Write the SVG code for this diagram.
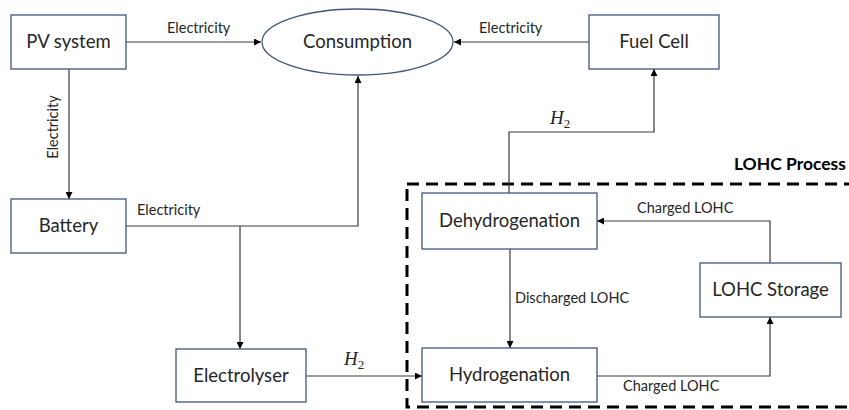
<svg xmlns="http://www.w3.org/2000/svg" width="849" height="410" viewBox="0 0 849 410">
  <style>
    .box { fill: #ffffff; stroke: #42557b; stroke-width: 1.3; }
    .lbl { font-family: Lato, "Open Sans", "Liberation Sans", sans-serif; font-size: 18.5px; fill: #262626; text-anchor: middle; }
    .edge { fill: none; stroke: #3a3a3a; stroke-width: 1.2; }
    .elbl { font-family: Lato, "Open Sans", "Liberation Sans", sans-serif; font-size: 14.5px; fill: #262626; }
    .math { font-family: "Liberation Serif", serif; font-size: 19px; fill: #262626; }
    .group { fill: none; stroke: #000000; stroke-width: 3; stroke-dasharray: 12 7; }
  </style>
  <defs>
    <marker id="arrow" viewBox="0 0 10 10" refX="10" refY="5" markerWidth="7" markerHeight="7" orient="auto" markerUnits="userSpaceOnUse">
      <path d="M0,0 L10,5 L0,10 z" fill="#000000"/>
    </marker>
  </defs>

  <rect width="849" height="410" fill="#ffffff"/>

  <!-- LOHC process boundary -->
  <g id="lohc-process">
    <rect class="group" x="407" y="184" width="460" height="223"/>
    <text x="846" y="170" font-family="Lato, 'Open Sans', 'Liberation Sans', sans-serif" font-size="17.5" font-weight="bold" fill="#000000" text-anchor="end">LOHC Process</text>
  </g>

  <!-- connectors -->
  <g id="connectors">
    <!-- PV -> Consumption -->
    <line class="edge" x1="126" y1="42" x2="261" y2="42" marker-end="url(#arrow)"/>
    <text class="elbl" x="167" y="33">Electricity</text>
    <!-- PV -> Battery -->
    <line class="edge" x1="69" y1="69" x2="69" y2="199" marker-end="url(#arrow)"/>
    <text class="elbl" transform="translate(58,127) rotate(-90)" text-anchor="middle">Electricity</text>
    <!-- Battery -> Consumption -->
    <polyline class="edge" points="126,226 358,226 358,76" marker-end="url(#arrow)"/>
    <text class="elbl" x="137" y="215">Electricity</text>
    <!-- Battery -> Electrolyser -->
    <line class="edge" x1="240" y1="226" x2="240" y2="349" marker-end="url(#arrow)"/>
    <!-- Electrolyser -> Hydrogenation -->
    <line class="edge" x1="306" y1="376" x2="422" y2="376" marker-end="url(#arrow)"/>
    <text class="math" x="344" y="365"><tspan font-style="italic">H</tspan><tspan font-size="13" dy="4">2</tspan></text>
    <!-- Fuel Cell -> Consumption -->
    <line class="edge" x1="589" y1="42" x2="454" y2="42" marker-end="url(#arrow)"/>
    <text class="elbl" x="479" y="33">Electricity</text>
    <!-- Dehydrogenation -> Fuel Cell -->
    <polyline class="edge" points="509,193 509,132 654,132 654,69" marker-end="url(#arrow)"/>
    <text class="math" x="550" y="124"><tspan font-style="italic">H</tspan><tspan font-size="13" dy="4">2</tspan></text>
    <!-- Dehydrogenation -> Hydrogenation -->
    <line class="edge" x1="510" y1="249" x2="510" y2="348" marker-end="url(#arrow)"/>
    <text class="elbl" x="515" y="303">Discharged LOHC</text>
    <!-- Hydrogenation -> LOHC Storage -->
    <polyline class="edge" points="597,376 770,376 770,317" marker-end="url(#arrow)"/>
    <text class="elbl" x="623" y="391">Charged LOHC</text>
    <!-- LOHC Storage -> Dehydrogenation -->
    <polyline class="edge" points="770,263 770,221 597,221" marker-end="url(#arrow)"/>
    <text class="elbl" x="637" y="213">Charged LOHC</text>
  </g>

  <!-- nodes -->
  <g id="pv-system">
    <rect class="box" x="11" y="15" width="115" height="54"/>
    <text class="lbl" x="68.5" y="48">PV system</text>
  </g>
  <g id="consumption">
    <ellipse class="box" cx="357.5" cy="42" rx="95.5" ry="33"/>
    <text class="lbl" x="357.5" y="48">Consumption</text>
  </g>
  <g id="fuel-cell">
    <rect class="box" x="589" y="15" width="130" height="54"/>
    <text class="lbl" x="654" y="48">Fuel Cell</text>
  </g>
  <g id="battery">
    <rect class="box" x="11" y="199" width="115" height="54"/>
    <text class="lbl" x="68.5" y="232">Battery</text>
  </g>
  <g id="electrolyser">
    <rect class="box" x="176" y="349" width="130" height="53"/>
    <text class="lbl" x="241" y="382">Electrolyser</text>
  </g>
  <g id="dehydrogenation">
    <rect class="box" x="422" y="193" width="175" height="56"/>
    <text class="lbl" x="509.5" y="227">Dehydrogenation</text>
  </g>
  <g id="hydrogenation">
    <rect class="box" x="422" y="348" width="175" height="54"/>
    <text class="lbl" x="509.5" y="381">Hydrogenation</text>
  </g>
  <g id="lohc-storage">
    <rect class="box" x="700" y="263" width="141" height="54"/>
    <text class="lbl" x="770.5" y="296">LOHC Storage</text>
  </g>
</svg>
